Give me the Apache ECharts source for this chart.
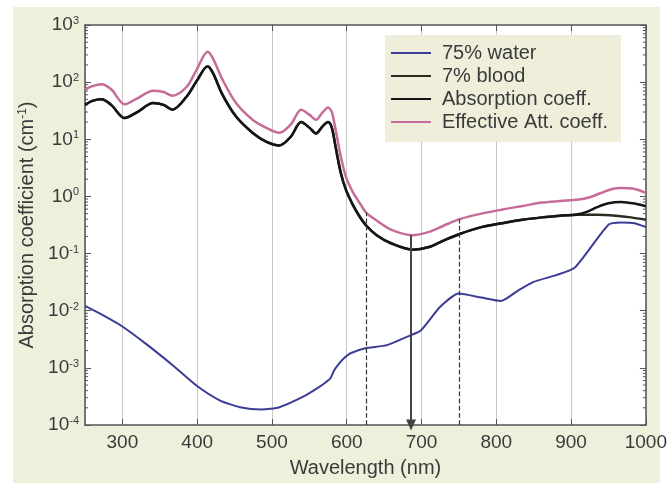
<!DOCTYPE html>
<html>
<head>
<meta charset="utf-8">
<script src="https://cdn.jsdelivr.net/npm/echarts@6/dist/echarts.min.js"></script>
<style>
    html, body { margin: 0; padding: 0; background: #fff; }
    .wrap { position: relative; width: 670px; height: 483px; }
    .panel { position: absolute; left: 13px; top: 7px; width: 647px; height: 476px; background: #eef0dc; }
    #myChart { position: absolute; left: 0; top: 0; width: 670px; height: 483px; }
</style>
</head>
<body>
<div class="wrap">
    <div class="panel"></div>
    <div id="myChart"></div>
</div>
<script>
    // values: wavelength (nm) -> coefficient (cm^-1)
    const waterWl = [250, 275, 299, 332, 368, 399, 430, 457, 486, 510, 545, 565, 572, 578, 583, 590, 597, 605, 625, 654, 685, 699, 725, 750, 780, 806, 830, 850, 880, 905, 950, 967, 985, 1000];
    const waterVal = [0.0121, 0.0082, 0.0054, 0.0026, 0.00109, 0.00049, 0.00027, 0.000205, 0.000186, 0.000205, 0.00033, 0.00048, 0.00056, 0.00065, 0.0009, 0.0012, 0.0015, 0.0018, 0.0022, 0.0025, 0.0037, 0.0045, 0.0117, 0.02, 0.017, 0.0148, 0.023, 0.032, 0.042, 0.057, 0.32, 0.35, 0.34, 0.29];

    const bloodWl = [250, 260, 272, 285, 303, 320, 341, 355, 367, 386, 399, 414, 421, 434, 452, 474, 492, 510, 525, 539, 550, 559, 568, 575, 580, 585, 592, 599, 608, 617, 626, 640, 660, 688, 710, 730, 751, 780, 808, 835, 861, 885, 910, 935, 960, 980, 1000];
    const bloodVal = [40, 47, 50, 40, 23.5, 30, 43, 40, 33, 56, 103, 190, 145, 60, 25, 13, 9.1, 7.8, 11, 20, 16, 12.6, 17, 20, 16, 7.5, 2.6, 1.3, 0.72, 0.45, 0.31, 0.21, 0.15, 0.117, 0.13, 0.17, 0.22, 0.29, 0.34, 0.39, 0.43, 0.46, 0.48, 0.48, 0.46, 0.43, 0.39];

    const absorbWl = [250, 260, 272, 285, 303, 320, 341, 355, 367, 386, 399, 414, 421, 434, 452, 474, 492, 510, 525, 539, 550, 559, 568, 575, 580, 585, 592, 599, 608, 617, 626, 640, 660, 688, 710, 730, 751, 780, 808, 835, 861, 885, 905, 920, 935, 950, 967, 985, 1000];
    const absorbVal = [40, 47, 50, 40, 23.5, 30, 43, 40, 33, 56, 103, 190, 145, 60, 25, 13, 9.1, 7.8, 11, 20, 16, 12.6, 17, 20, 16, 7.5, 2.6, 1.3, 0.72, 0.45, 0.31, 0.21, 0.15, 0.117, 0.13, 0.17, 0.22, 0.29, 0.34, 0.39, 0.43, 0.46, 0.48, 0.53, 0.65, 0.76, 0.8, 0.75, 0.67];

    const effWl = [250, 260, 272, 285, 303, 320, 341, 355, 367, 386, 399, 414, 421, 434, 452, 474, 492, 510, 525, 539, 550, 559, 568, 575, 580, 585, 592, 599, 608, 617, 626, 640, 660, 688, 710, 730, 751, 780, 808, 835, 861, 885, 910, 925, 940, 955, 967, 985, 1000];
    const effVal = [74, 85, 92, 75, 41, 52, 71, 67, 58, 83, 163, 340, 260, 110, 43, 22, 16, 13, 18, 33, 27, 22, 30, 36, 30, 15, 5, 2.2, 1.2, 0.78, 0.52, 0.38, 0.26, 0.21, 0.24, 0.31, 0.4, 0.5, 0.59, 0.68, 0.78, 0.83, 0.88, 0.97, 1.15, 1.35, 1.4, 1.35, 1.15];

    // dashed window limits and arrow (nm), with the curve value where they stop
    const windowWl = [626, 751];
    const windowTop = [0.52, 0.4];
    const arrowWl = 686;
    const arrowTop = 0.21;

    const seriesNames = ['75% water', '7% blood', 'Absorption coeff.', 'Effective Att. coeff.'];
    const xMin = 250, xMax = 1000;
    const yMin = 1e-4, yMax = 1e3;

    function pairs(xs, ys) {
        return xs.map(function (x, i) { return [x, ys[i]]; });
    }

    // log minor tick positions 2..9 per decade
    const minorTicks = [];
    for (let e = -4; e < 3; e++) {
        for (let m = 2; m <= 9; m++) {
            minorTicks.push([xMin, m * Math.pow(10, e)]);
        }
    }

    const font = 'Liberation Sans, Arial, sans-serif';
    const textColor = '#3a3a3a';
    const axisColor = '#555';

    let myChart = echarts.init(document.getElementById('myChart'));

    const windowLines = windowWl.map(function (w, i) {
        return [{ coord: [w, yMin] }, { coord: [w, windowTop[i]] }];
    });

    myChart.setOption({
        animation: false,
        textStyle: { fontFamily: font },
        grid: {
            left: 85, right: 24, top: 25, bottom: 57,
            show: true, backgroundColor: '#fff', borderWidth: 0
        },
        legend: {
            orient: 'vertical',
            left: 385, top: 35,
            padding: [8, 13, 10, 5],
            itemWidth: 40, itemHeight: 14, itemGap: 3,
            backgroundColor: '#eeeedb',
            data: seriesNames,
            itemStyle: { opacity: 0 },
            textStyle: { fontSize: 20, color: textColor, fontFamily: font, padding: [0, 0, 0, 6] }
        },
        xAxis: [{
            type: 'value', min: xMin, max: xMax, splitNumber: 8, position: 'bottom',
            axisLine: { lineStyle: { color: axisColor, width: 1.5 } },
            axisTick: { inside: true, length: 6, lineStyle: { color: axisColor } },
            axisLabel: {
                fontSize: 19, color: textColor, margin: 8, showMinLabel: false,
                formatter: function (v) { return String(v); }
            },
            splitLine: { show: true, lineStyle: { color: '#c8c8c8', width: 1 } },
            name: 'Wavelength (nm)', nameLocation: 'middle', nameGap: 33,
            nameTextStyle: { fontSize: 20, color: textColor }
        }, {
            type: 'value', min: xMin, max: xMax, splitNumber: 8, position: 'top',
            axisLine: { lineStyle: { color: axisColor, width: 1.5 } },
            axisTick: { inside: true, length: 6, lineStyle: { color: axisColor } },
            axisLabel: { show: false },
            splitLine: { show: false }
        }],
        yAxis: [{
            type: 'log', logBase: 10, min: yMin, max: yMax, position: 'left',
            axisLine: { lineStyle: { color: axisColor, width: 1.5 } },
            axisTick: { inside: true, length: 6, lineStyle: { color: axisColor } },
            splitLine: { show: false },
            axisLabel: {
                margin: 6,
                formatter: function (v) {
                    return '{b|10}{e|' + Math.round(Math.log10(v)) + '}';
                },
                rich: {
                    b: { fontSize: 19, color: textColor, fontFamily: font },
                    e: { fontSize: 11, color: textColor, fontFamily: font, verticalAlign: 'top' }
                }
            },
            name: 'Absorption coefficient (cm{s|-1})',
            nameLocation: 'middle', nameGap: 47,
            nameTextStyle: {
                fontSize: 20, color: textColor,
                rich: { s: { fontSize: 12, color: textColor, verticalAlign: 'top' } }
            }
        }, {
            type: 'log', logBase: 10, min: yMin, max: yMax, position: 'right',
            axisLine: { lineStyle: { color: axisColor, width: 1.5 } },
            axisTick: { inside: true, length: 6, lineStyle: { color: axisColor } },
            axisLabel: { show: false },
            splitLine: { show: false }
        }],
        series: [{
            name: '75% water',
            type: 'line',
            data: pairs(waterWl, waterVal),
            symbol: 'none',
            smooth: 0.2,
            lineStyle: { color: '#3b3d96', width: 2 },
            itemStyle: { color: '#3b3d96' }
        }, {
            name: '7% blood',
            type: 'line',
            data: pairs(bloodWl, bloodVal),
            symbol: 'none',
            smooth: 0.3,
            lineStyle: { color: '#2c2c22', width: 2.5 },
            itemStyle: { color: '#2c2c22' }
        }, {
            name: 'Absorption coeff.',
            type: 'line',
            data: pairs(absorbWl, absorbVal),
            symbol: 'none',
            smooth: 0.3,
            lineStyle: { color: '#151515', width: 2.5 },
            itemStyle: { color: '#151515' }
        }, {
            name: 'Effective Att. coeff.',
            type: 'line',
            data: pairs(effWl, effVal),
            symbol: 'none',
            smooth: 0.3,
            lineStyle: { color: '#c56d98', width: 2.5 },
            itemStyle: { color: '#c56d98' },
            markLine: {
                silent: true,
                symbol: 'none',
                label: { show: false },
                lineStyle: { color: '#333', type: 'dashed', width: 1.2 },
                data: windowLines.concat([[
                    { coord: [arrowWl, arrowTop], symbol: 'none', lineStyle: { type: 'solid', width: 2, color: '#444' } },
                    { coord: [arrowWl, yMin], symbol: 'triangle', symbolSize: [10, 11], lineStyle: { type: 'solid', width: 2, color: '#444' } }
                ]])
            }
        }, {
            // minor ticks of the log axes, left and right
            type: 'custom',
            silent: true,
            data: minorTicks,
            renderItem: function (params, api) {
                const v = api.value(1);
                const l = api.coord([xMin, v]);
                const r = api.coord([xMax, v]);
                return {
                    type: 'group',
                    children: [
                        { type: 'line', shape: { x1: l[0], y1: l[1], x2: l[0] + 3, y2: l[1] }, style: { stroke: axisColor, lineWidth: 1 } },
                        { type: 'line', shape: { x1: r[0] - 3, y1: r[1], x2: r[0], y2: r[1] }, style: { stroke: axisColor, lineWidth: 1 } }
                    ]
                };
            }
        }]
    });
</script>
</body>
</html>
